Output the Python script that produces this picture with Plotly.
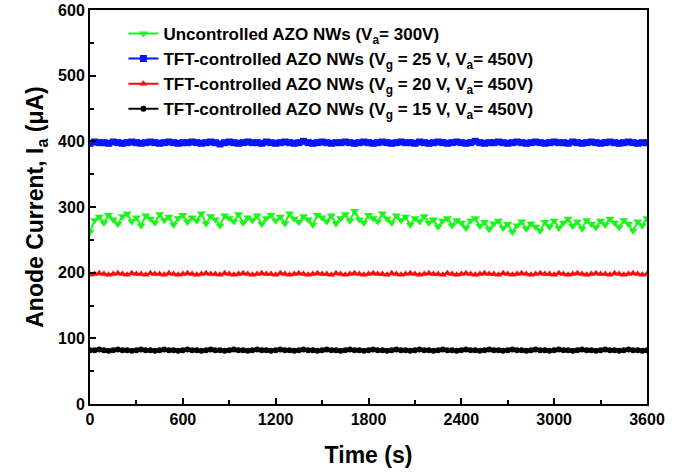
import plotly.graph_objects as go

time_s = list(range(0, 3601, 30))

uncontrolled = [
    262, 280, 285, 276, 288, 281, 274, 286, 290, 278, 284,
    272, 287, 282, 276, 289, 280, 285, 273, 283, 288, 277,
    284, 279, 290, 275, 286, 281, 272, 287, 283, 278, 289,
    276, 284, 280, 287, 274, 283, 288, 279, 285, 275, 290,
    282, 277, 286, 281, 273, 288, 284, 278, 287, 275, 283,
    289, 279, 294, 281, 276, 288, 283, 278, 290, 282, 276,
    287, 280, 285, 273, 283, 278, 286, 276, 281, 270, 279,
    283, 272, 280, 276, 268, 279, 283, 271, 277, 266, 275,
    279, 268, 274, 262, 272, 278, 267, 275, 270, 264, 277,
    270, 279, 268, 276, 282, 271, 278, 267, 280, 274, 269,
    279, 273, 282, 276, 269, 280, 274, 264, 278, 272, 283,
]

vg25 = [
    397, 399, 398, 398, 397, 399, 398, 397, 398, 399, 398,
    397, 398, 399, 398, 397, 398, 399, 398, 397, 398, 398,
    399, 398, 397, 398, 399, 398, 396, 398, 399, 398, 397,
    398, 399, 398, 398, 397, 399, 398, 397, 398, 399, 398,
    397, 398, 400, 398, 397, 398, 399, 398, 397, 398, 398,
    399, 398, 397, 398, 399, 398, 397, 398, 399, 398, 397,
    398, 399, 398, 398, 397, 399, 398, 397, 398, 399, 398,
    397, 398, 399, 398, 397, 398, 400, 398, 397, 398, 398,
    399, 398, 397, 398, 399, 398, 397, 398, 399, 398, 397,
    398, 399, 398, 398, 397, 399, 398, 397, 398, 399, 398,
    397, 398, 399, 398, 397, 398, 399, 398, 397, 398, 398,
]

vg20 = [
    197, 198, 199, 198, 197, 198, 199, 198, 197, 199, 198,
    198, 197, 199, 198, 198, 197, 199, 198, 197, 198, 199,
    198, 197, 198, 199, 198, 198, 197, 199, 198, 197, 198,
    199, 198, 197, 198, 199, 198, 198, 197, 199, 198, 197,
    198, 199, 198, 197, 198, 199, 198, 198, 197, 199, 198,
    197, 198, 199, 198, 197, 198, 199, 198, 198, 197, 199,
    198, 197, 198, 199, 198, 197, 198, 199, 198, 198, 197,
    199, 198, 197, 198, 199, 198, 197, 198, 199, 198, 198,
    197, 199, 198, 197, 198, 199, 198, 197, 198, 199, 198,
    198, 197, 199, 198, 197, 198, 199, 198, 197, 198, 199,
    198, 198, 197, 199, 198, 197, 198, 199, 198, 197, 198,
]

vg15 = [
    82, 82, 83, 82, 81, 82, 83, 82, 82, 81, 82,
    83, 82, 82, 81, 82, 83, 82, 82, 81, 82, 83,
    82, 82, 81, 82, 83, 82, 82, 81, 82, 83, 82,
    82, 81, 82, 83, 82, 82, 81, 82, 83, 82, 82,
    81, 82, 83, 82, 82, 81, 82, 83, 82, 82, 81,
    82, 83, 82, 82, 81, 82, 83, 82, 82, 81, 82,
    83, 82, 82, 81, 82, 83, 82, 82, 81, 82, 83,
    82, 82, 81, 82, 83, 82, 82, 81, 82, 83, 82,
    82, 81, 82, 83, 82, 82, 81, 82, 83, 82, 82,
    81, 82, 83, 82, 82, 81, 82, 83, 82, 82, 81,
    82, 83, 82, 82, 81, 82, 83, 82, 82, 81, 82,
]

names = [
    "Uncontrolled AZO NWs (V<sub>a</sub>= 300V)",
    "TFT-controlled AZO NWs (V<sub>g</sub> = 25 V, V<sub>a</sub>= 450V)",
    "TFT-controlled AZO NWs (V<sub>g</sub> = 20 V, V<sub>a</sub>= 450V)",
    "TFT-controlled AZO NWs (V<sub>g</sub> = 15 V, V<sub>a</sub>= 450V)",
]
series = [uncontrolled, vg25, vg20, vg15]
colors = ["#1cf51c", "#0a14ff", "#ff0a0a", "#000000"]
symbols = ["triangle-down", "square", "triangle-up", "circle"]
msizes = [8, 7, 7, 6]

FONT = "Liberation Sans, Arial, Helvetica, sans-serif"

fig = go.Figure()
for nm, ys, c, s, ms in zip(names, series, colors, symbols, msizes):
    fig.add_trace(go.Scatter(
        x=time_s, y=ys, name=nm, mode="lines+markers",
        line=dict(color=c, width=2),
        marker=dict(symbol=s, size=ms, color=c, line=dict(width=0)),
    ))

axis_common = dict(
    showline=True, linecolor="black", linewidth=2, mirror=True,
    ticks="inside", ticklen=6, tickwidth=2, tickcolor="black",
    showgrid=False, zeroline=False, automargin=False,
    tickfont=dict(family=FONT, size=16, color="black", weight="bold"),
)

fig.update_xaxes(
    range=[0, 3600], tickmode="array", tickvals=[0, 600, 1200, 1800, 2400, 3000, 3600],
    ticktext=["0", "600", "1200", "1800", "2400", "3000", "3600"],
    minor=dict(ticks="inside", ticklen=4, tickwidth=2, tickcolor="black", dtick=300, tick0=0),
    title=dict(text="Time (s)", font=dict(family=FONT, size=23, color="black", weight="bold"), standoff=20),
    **axis_common,
)
fig.update_yaxes(
    range=[0, 600], dtick=100, tick0=0,
    minor=dict(ticks="inside", ticklen=4, tickwidth=2, tickcolor="black", dtick=50, tick0=0),
    title=dict(text="Anode Current, I<sub>a</sub> (μA)", font=dict(family=FONT, size=23, color="black", weight="bold"), standoff=8),
    **axis_common,
)

fig.update_layout(
    width=675, height=473,
    margin=dict(l=90, r=28, t=10, b=69),
    paper_bgcolor="white", plot_bgcolor="white",
    showlegend=True,
    legend=dict(
        x=0.06, y=0.985, xanchor="left", yanchor="top",
        bgcolor="rgba(0,0,0,0)", borderwidth=0,
        font=dict(family=FONT, size=17, color="black", weight="bold"),
        tracegroupgap=0, itemsizing="trace",
    ),
)

fig.write_html("out.html")
